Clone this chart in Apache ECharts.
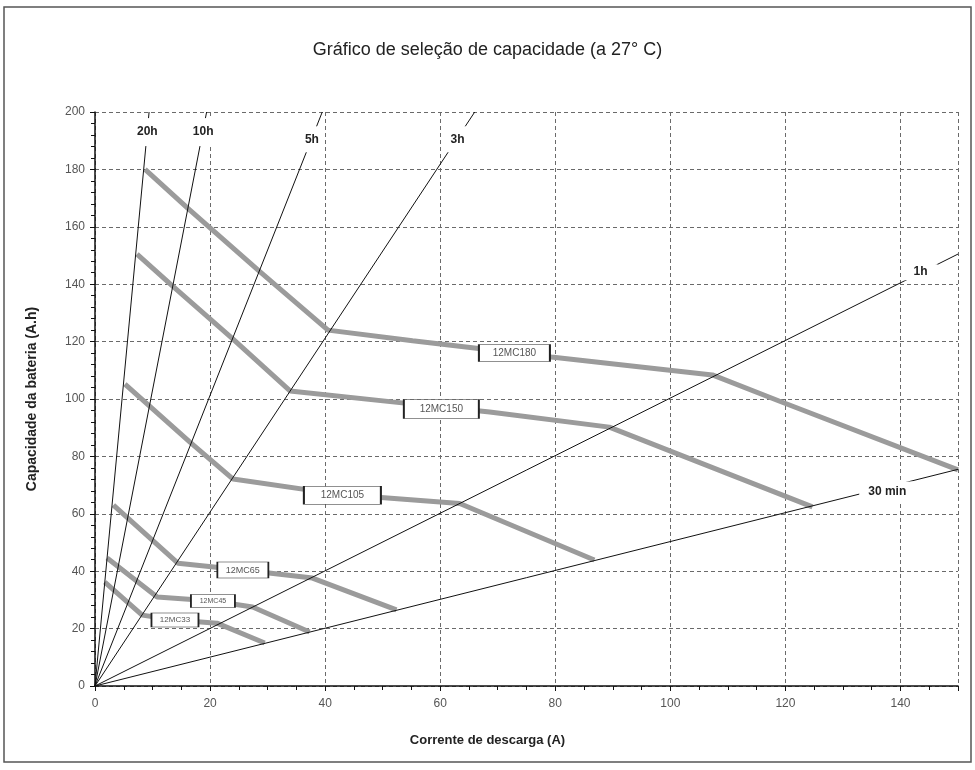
<!DOCTYPE html>
<html><head><meta charset="utf-8">
<script src="https://cdn.jsdelivr.net/npm/echarts@6/dist/echarts.min.js"></script>
<style>html,body{margin:0;padding:0;background:#fff}#c{width:975px;height:770px}</style>
</head><body><div id="c"></div>
<script>
// ---- data ----
const titleText = 'Gráfico de seleção de capacidade (a 27° C)';
const xName = 'Corrente de descarga (A)';
const yName = 'Capacidade da bateria (A.h)';

const curveNames = ['12MC180', '12MC150', '12MC105', '12MC65', '12MC45', '12MC33'];
const curve180 = [[8.7,180],[16.1,166.5],[28.6,144.5],[40.5,124],[55.2,120.3],[79.3,114.6],[107.3,108.4],[118.9,99.3],[150,75.3]];
const curve150 = [[7.3,150.5],[13.4,139.5],[23.8,121.2],[33.9,102.8],[51.7,99],[68.6,95.5],[89.4,90.2],[124.7,62.4]];
const curve105 = [[5.2,105.2],[16.5,85],[24,72.1],[43,66.6],[50.3,65.6],[63.4,63.6],[86.8,43.9]];
const curve65  = [[3.2,63],[14.4,42.8],[25.7,40.4],[37.8,37.6],[52.4,26.5]];
const curve45  = [[2.1,44.6],[10.8,31],[20.5,29.6],[27.4,27.5],[37.3,18.8]];
const curve33  = [[1.7,36.2],[8.2,24.7],[13.9,23],[21.2,21.9],[29.5,15]];
const curveTagAt = [[72.9,116],[60.2,96.5],[43,66.5],[25.7,40.4],[20.5,29.6],[13.9,23]];

const rateNames = ['20h', '10h', '5h', '3h', '1h', '30 min'];
const rateEnds  = [[9.4,200],[19.4,200],[39.5,200],[66,200],[150,150.5],[150,75.5]];
const rateTagAt = [[9.1,193],[18.8,193],[37.7,190.5],[63,190.5],[143.5,144.2],[137.7,67.8]];

const xMin = 0, xMax = 150, xStep = 20;
const yMin = 0, yMax = 200, yStep = 20;

// ---- styling ----
const curves = [curve180, curve150, curve105, curve65, curve45, curve33];
const tagBox = [[71,17],[75,19],[77,18],[51,16],[44,13],[47,14]];
const tagFont = [10,10,10,9,7,8];
const rateBox = [[24,28],[26,28],[22,26],[22,26],[34,16],[56,20]];
const FONT = 'Liberation Sans, Arial, sans-serif';

const series = [];
curves.forEach((d, i) => {
  series.push({
    type: 'line', name: curveNames[i], data: d, showSymbol: false, z: 3,
    lineStyle: { color: '#9b9b9b', width: 5 }, silent: true
  });
});
rateEnds.forEach((e, i) => {
  series.push({
    type: 'line', name: rateNames[i], data: [[0,0], e], showSymbol: false, z: 4,
    lineStyle: { color: '#111', width: 1 }, silent: true
  });
});
series.push({
  type: 'scatter', z: 6, silent: true, symbol: 'rect',
  data: curveTagAt.map((p, i) => ({
    value: p, name: curveNames[i], symbolSize: tagBox[i],
    label: { fontSize: tagFont[i] }
  })),
  itemStyle: { color: '#fff', borderColor: '#222', borderWidth: 1, opacity: 1 },
  label: { show: true, position: 'inside', formatter: p => p.name, color: '#555', fontFamily: FONT }
});
series.push({
  type: 'scatter', z: 6, silent: true, symbol: 'rect',
  data: rateTagAt.map((p, i) => ({ value: p, name: rateNames[i], symbolSize: rateBox[i] })),
  itemStyle: { color: '#fff', opacity: 1 },
  label: { show: true, position: 'inside', formatter: p => p.name, color: '#222', fontSize: 12, fontWeight: 'bold', fontFamily: FONT }
});

const gridLine = { show: true, lineStyle: { color: '#6a6a6a', type: [4, 3], width: 1 } };
const chart = echarts.init(document.getElementById('c'), null, { renderer: 'canvas' });
chart.setOption({
  animation: false,
  backgroundColor: '#fff',
  title: {
    text: titleText, left: 'center', top: 36,
    textStyle: { fontFamily: FONT, fontSize: 18, fontWeight: 'normal', color: '#222' }
  },
  graphic: [{
    type: 'rect', shape: { x: 4, y: 7, width: 967, height: 755 },
    style: { fill: 'none', stroke: '#555', lineWidth: 1.5 }, silent: true
  }],
  grid: { left: 95, right: 17, top: 112, bottom: 84 },
  xAxis: {
    type: 'value', min: xMin, max: xMax, interval: xStep,
    name: xName, nameLocation: 'middle', nameGap: 48,
    nameTextStyle: { fontFamily: FONT, fontSize: 13, fontWeight: 'bold', color: '#222', padding: [0, 78, 0, 0] },
    axisLine: { show: true, onZero: false, lineStyle: { color: '#111', width: 1.5 } },
    axisTick: { show: true, length: 5, lineStyle: { color: '#111' } },
    minorTick: { show: true, splitNumber: 4, length: 4, lineStyle: { color: '#111' } },
    axisLabel: { showMaxLabel: false, fontFamily: FONT, fontSize: 12, color: '#555', margin: 12 },
    splitLine: gridLine
  },
  yAxis: {
    type: 'value', min: yMin, max: yMax, interval: yStep,
    name: yName, nameLocation: 'middle', nameGap: 56, nameRotate: 90,
    nameTextStyle: { fontFamily: FONT, fontSize: 14, fontWeight: 'bold', color: '#222' },
    axisLine: { show: true, onZero: false, lineStyle: { color: '#111', width: 1.5 } },
    axisTick: { show: true, length: 5, lineStyle: { color: '#111' } },
    minorTick: { show: true, splitNumber: 5, length: 4, lineStyle: { color: '#111' } },
    axisLabel: { fontFamily: FONT, fontSize: 12, color: '#555', margin: 10 },
    splitLine: gridLine
  },
  series: series
});
</script>
</body></html>
